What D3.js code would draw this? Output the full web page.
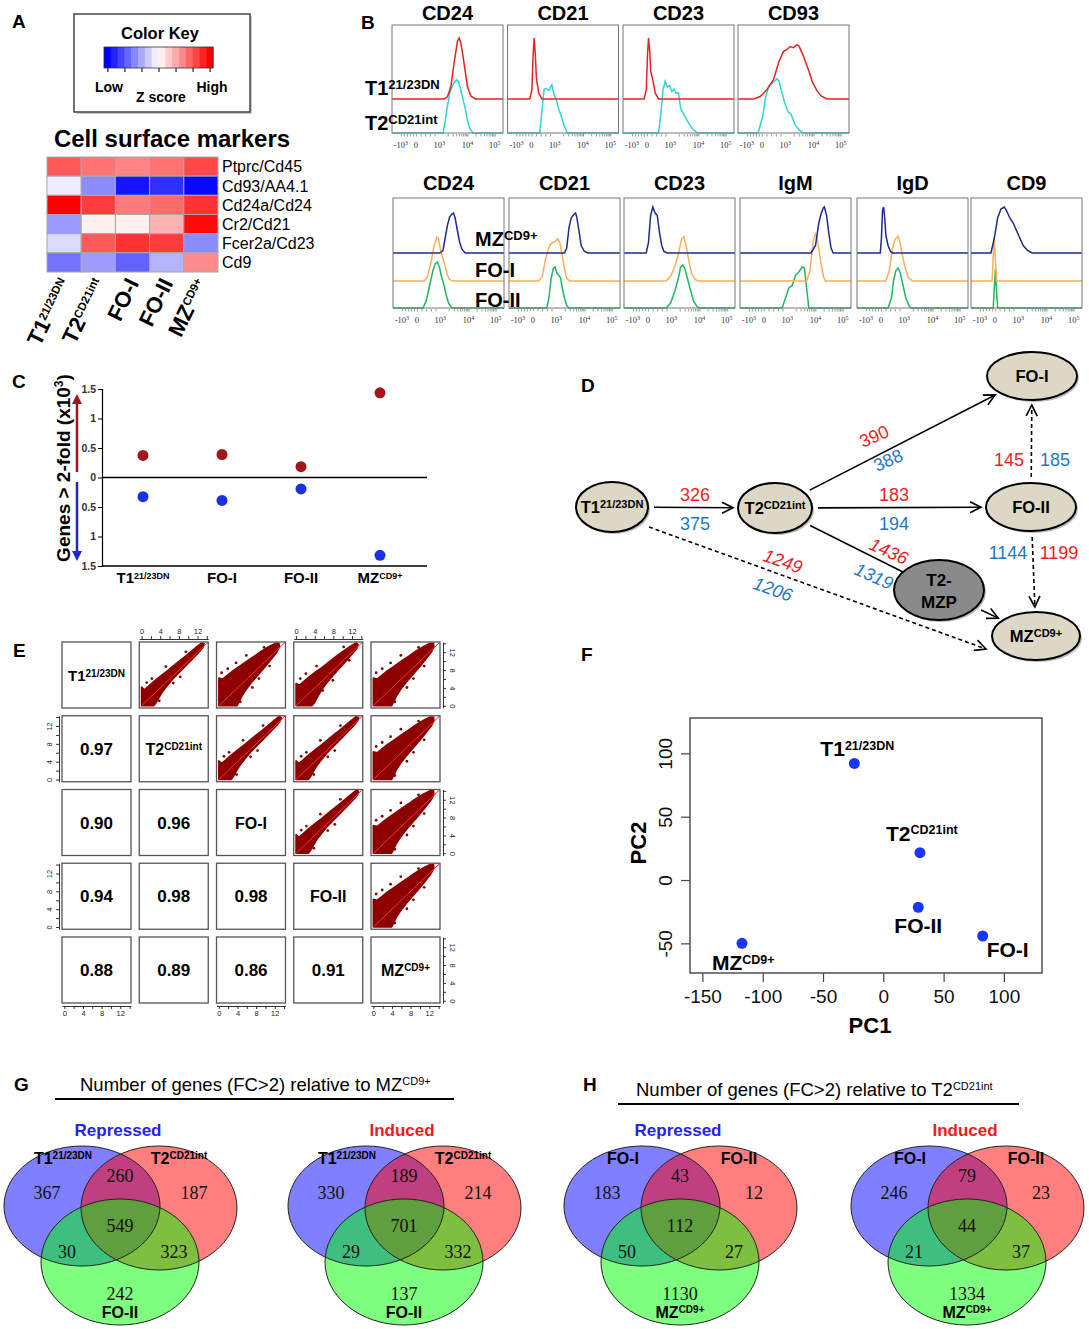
<!DOCTYPE html>
<html>
<head>
<meta charset="utf-8">
<script src="https://cdnjs.cloudflare.com/ajax/libs/d3/7.8.5/d3.min.js"></script>
<style>
body { margin: 0; background: #fff; }
svg text { font-family: "Liberation Sans", Arial, sans-serif; }
svg text.serif { font-family: "Liberation Serif", "Times New Roman", serif; }
</style>
</head>
<body>
<svg id="fig" width="1089" height="1329"></svg>
<script>
// ---------- A: heatmap ----------
const markers = ["Ptprc/Cd45", "Cd93/AA4.1", "Cd24a/Cd24", "Cr2/Cd21", "Fcer2a/Cd23", "Cd9"];
const subsets = [["T1", "21/23DN"], ["T2", "CD21int"], ["FO-I", ""], ["FO-II", ""], ["MZ", "CD9+"]];
const zscores = [
  [1.95, 1.65, 1.45, 1.65, 2.15],
  [-0.2, -1.35, -2.75, -2.45, -2.9],
  [3.0, 2.3, 1.55, 1.75, 2.4],
  [-1.2, 0.18, 0.18, 0.9, 2.9],
  [-0.42, 1.95, 2.4, 2.3, -1.35],
  [-1.65, -1.15, -1.85, -0.9, 1.35]
];
const keyTicks = [-3, -2, -1, 0, 1, 2, 3];

// ---------- B: flow histograms (channel 0-100, normalised count) ----------
const flowTop = ["CD24", "CD21", "CD23", "CD93"];
const flowT1 = [
  [[47,0],[50,0.04],[53,0.2],[56,0.6],[59,0.95],[60.5,1],[62,0.92],[64,0.7],[66,0.45],[68,0.2],[71,0.05],[75,0]],
  [[20,0],[22,0.15],[23,0.7],[24,1],[25,0.75],[26,0.35],[28,0.1],[31,0]],
  [[19,0],[21,0.15],[22,0.7],[23,1],[24,0.8],[25,0.45],[27,0.3],[29,0.1],[32,0]],
  [[14,0],[20,0.04],[26,0.15],[32,0.32],[37,0.62],[41,0.78],[44,0.81],[47,0.86],[50,0.84],[53,0.89],[55,0.87],[57,0.78],[59,0.7],[62,0.55],[64,0.45],[67,0.28],[71,0.14],[75,0.05],[80,0]]
];
const flowT2 = [
  [[46,0],[48,0.2],[50,0.45],[52,0.65],[55,0.8],[58,0.87],[60,0.84],[62,0.7],[64,0.55],[66,0.4],[68,0.2],[70,0.08],[73,0]],
  [[29,0],[31,0.35],[33,0.72],[35,0.73],[37,0.7],[39,0.76],[40,0.79],[42,0.62],[44,0.55],[46,0.4],[48,0.3],[51,0.12],[54,0]],
  [[32,0],[34,0.3],[36,0.7],[38,0.85],[40,0.75],[42,0.78],[44,0.68],[46,0.72],[48,0.65],[50,0.66],[52,0.4],[55,0.3],[58,0.2],[62,0.08],[67,0]],
  [[18,0],[22,0.25],[25,0.6],[28,0.78],[30,0.8],[33,0.85],[35,0.89],[37,0.85],[39,0.7],[42,0.5],[45,0.35],[48,0.3],[51,0.15],[55,0.05],[59,0]]
];
const flowBottom = ["CD24", "CD21", "CD23", "IgM", "IgD", "CD9"];
const flowMZ = [
  [[42,0],[45,0.05],[47,0.3],[49,0.55],[51,0.72],[53,0.78],[54.5,0.8],[56,0.7],[58,0.45],[60,0.22],[62,0.08],[65,0]],
  [[50,0],[52,0.1],[54,0.5],[56,0.7],[58,0.76],[60,0.8],[61,0.72],[63,0.45],[65,0.15],[68,0.03],[71,0]],
  [[20,0],[22,0.2],[24,0.75],[26,0.92],[28,0.8],[30,0.75],[32,0.4],[34,0.15],[36,0.03],[39,0]],
  [[64,0],[68,0.15],[71,0.6],[73,0.78],[75,0.9],[76,0.92],[78,0.75],[80,0.4],[82,0.1],[84,0]],
  [[21,0],[22,0.3],[23,0.85],[24,0.92],[25,0.7],[26,0.35],[28,0.15],[30,0.04],[32,0]],
  [[18,0],[21,0.3],[24,0.7],[27,0.88],[30,0.92],[32,0.85],[35,0.7],[38,0.6],[41,0.45],[44,0.3],[47,0.15],[51,0.05],[55,0]]
];
const flowFO1 = [
  [[28,0],[31,0.08],[34,0.35],[37,0.7],[39.5,0.88],[41,0.85],[43,0.6],[45,0.45],[47,0.3],[49,0.12],[51,0.03],[54,0]],
  [[27,0],[30,0.1],[33,0.45],[36,0.68],[38,0.75],[40,0.78],[42,0.8],[44,0.85],[46,0.75],[48,0.5],[50,0.25],[52,0.05],[55,0]],
  [[38,0],[42,0.1],[46,0.3],[49,0.55],[52,0.85],[54,0.89],[56,0.7],[58,0.45],[61,0.15],[64,0.03],[67,0]],
  [[60,0],[63,0.2],[66,0.8],[68,0.94],[69,0.9],[71,0.65],[73,0.35],[75,0.1],[77,0]],
  [[26,0],[29,0.2],[32,0.65],[34,0.82],[37,0.9],[39,0.75],[41,0.5],[43,0.3],[46,0.08],[50,0]],
  [[19,0],[20,0.5],[21,0.88],[22,0.4],[23,0]]
];
const flowFO2 = [
  [[27,0],[30,0.15],[33,0.45],[36,0.75],[38,0.88],[40,0.92],[42,0.8],[44,0.6],[46,0.45],[48,0.25],[50,0.1],[53,0]],
  [[34,0],[36,0.2],[38,0.6],[40,0.8],[41.5,0.82],[43,0.7],[45,0.65],[46.5,0.6],[48,0.4],[50,0.2],[52,0.05],[54,0]],
  [[38,0],[42,0.1],[46,0.35],[49,0.6],[51,0.82],[53,0.86],[55,0.78],[57,0.6],[60,0.35],[63,0.12],[66,0.02],[68,0]],
  [[38,0],[41,0.2],[44,0.4],[47,0.45],[50,0.65],[53,0.72],[56,0.82],[58,0.8],[60,0.4],[62,0]],
  [[28,0],[31,0.2],[33,0.55],[35,0.75],[37,0.8],[39,0.7],[41,0.5],[44,0.2],[47,0.04],[49,0]],
  [[20,0],[21,0.4],[22,0.8],[23,0.35],[24,0]]
];
const flowTickLabels = [["-10", "3"], ["0", ""], ["10", "3"], ["10", "4"], ["10", "5"]];
const flowTickChannels = [8, 21.5, 42.5, 68, 92.5];

// ---------- C: genes > 2-fold (x10^3) ----------
const dgeGroups = [["T1", "21/23DN"], ["FO-I", ""], ["FO-II", ""], ["MZ", "CD9+"]];
const dgeInduced = [0.375, 0.390, 0.183, 1.436];
const dgeRepressed = [0.326, 0.388, 0.194, 1.319];
const dgeTicks = [-1.5, -1, -0.5, 0, 0.5, 1, 1.5];

// ---------- D: lineage graph ----------
const nodeIds = ["T1", "T2", "FOI", "FOII", "MZP", "MZ"];
const nodeNames = [["T1", "21/23DN"], ["T2", "CD21int"], ["FO-I", ""], ["FO-II", ""], ["T2-", "MZP"], ["MZ", "CD9+"]];
const edgeFrom = ["T1", "T2", "T2", "T2", "T1", "FOII", "FOII", "MZP"];
const edgeTo = ["T2", "FOII", "FOI", "MZP", "MZ", "FOI", "MZ", "MZ"];
const edgeInduced = [326, 183, 390, 1436, 1249, 145, 1199, null];
const edgeRepressed = [375, 194, 388, 1319, 1206, 185, 1144, null];
const edgeDashed = [false, false, false, false, true, true, true, false];

// ---------- E: pairwise correlations ----------
const corrValues = [
  [1, 0.97, 0.90, 0.94, 0.88],
  [0.97, 1, 0.96, 0.98, 0.89],
  [0.90, 0.96, 1, 0.98, 0.86],
  [0.94, 0.98, 0.98, 1, 0.91],
  [0.88, 0.89, 0.86, 0.91, 1]
];
const cloudTight = [[0,0],[0,4.2],[0.6,3.6],[1.4,4.3],[2.6,5.4],[4,6.6],[5.6,7.9],[7.2,9.3],[8.8,10.6],[10.4,12],[11.8,13.2],[12.9,14.1],[13.4,13.9],[13.2,13.1],[12.3,12],[11,10.6],[9.4,8.9],[8,7.4],[6.6,5.9],[5.4,4.4],[4.4,3],[3.6,1.6],[3,0.5],[2.6,0],[0,0]];
const cloudMid = [[0,0],[0,5],[0.7,4.6],[1.6,5.4],[2.8,6.5],[4.2,7.6],[5.8,8.8],[7.4,10.1],[9,11.4],[10.6,12.6],[12,13.6],[12.9,14.1],[13.3,13.7],[13,12.8],[12,11.6],[10.6,9.9],[9.2,8.3],[7.8,6.6],[6.4,4.9],[5.3,3.3],[4.5,1.8],[3.9,0.6],[3.4,0],[0,0]];
const cloudWide = [[0,0],[0,6.2],[0.8,6],[1.8,6.8],[3,7.8],[4.5,8.9],[6,10],[7.6,11.1],[9.2,12.3],[10.8,13.3],[12.2,14],[12.9,14],[13,13.2],[12.4,12],[11.2,10.4],[9.8,8.6],[8.4,6.9],[7,5.2],[5.8,3.6],[4.9,2.1],[4.3,0.8],[3.9,0],[0,0]];
const outTight = [[1.1,5.2],[2.2,6.1],[5.2,8.8],[6.8,5.1],[9.5,12.1],[3.8,1.1],[8.3,6.5]];
const outMid = [[0.9,6.1],[2.1,7.2],[4.4,8.9],[7.9,5.7],[10.2,13.2],[5.7,3.4],[11.4,10.2]];
const outWide = [[0.6,7.4],[1.9,8.3],[3.7,9.6],[5.9,11.3],[8.6,6.1],[10.9,8.9],[7.2,4.1],[9.7,13.1],[4.6,0.9]];
const exprTicks = [0, 2, 4, 6, 8, 10, 12, 14];
const exprLabelled = [0, 4, 8, 12];
const fitEnds = [0, 14.2];

// ---------- F: PCA ----------
const pcaNames = [["T1", "21/23DN"], ["T2", "CD21int"], ["FO-I", ""], ["FO-II", ""], ["MZ", "CD9+"]];
const pc1 = [-24, 30.4, 82.4, 29, -117.2];
const pc2 = [92, 21.6, -44.2, -21.5, -50];
const pc1Ticks = [-150, -100, -50, 0, 50, 100];
const pc2Ticks = [-50, 0, 50, 100];

// ---------- G/H: Venn counts ----------
const vennTitles = [["Number of genes (FC>2) relative to MZ", "CD9+"], ["Number of genes (FC>2) relative to T2", "CD21int"]];
const vennHeads = ["Repressed", "Induced", "Repressed", "Induced"];
const vennSets = [
  [["T1", "21/23DN"], ["T2", "CD21int"], ["FO-II", ""]],
  [["T1", "21/23DN"], ["T2", "CD21int"], ["FO-II", ""]],
  [["FO-I", ""], ["FO-II", ""], ["MZ", "CD9+"]],
  [["FO-I", ""], ["FO-II", ""], ["MZ", "CD9+"]]
];
// order: A only, B only, C only, AB, AC, BC, ABC
const vennCounts = [
  [367, 187, 242, 260, 30, 323, 549],
  [330, 214, 137, 189, 29, 332, 701],
  [183, 12, 1130, 43, 50, 27, 112],
  [246, 23, 1334, 79, 21, 37, 44]
];

// =====================================================================
const svg = d3.select("#fig");
svg.append("rect").attr("width", 1089).attr("height", 1329).attr("fill", "#fff");

function supText(g, x, y, base, sup, size, supSize, anchor, weight) {
  const t = g.append("text").attr("x", x).attr("y", y).attr("font-size", size)
    .attr("font-weight", weight || "bold").attr("text-anchor", anchor || "start");
  t.append("tspan").text(base);
  if (sup) t.append("tspan").attr("font-size", supSize).attr("dy", -0.3 * size).text(sup);
  return t;
}

const letters = [["A", 12, 28], ["B", 361, 29], ["C", 12, 388], ["D", 581, 392],
                 ["E", 13, 657], ["F", 581, 661], ["G", 14, 1091], ["H", 583, 1091]];
letters.forEach(l => svg.append("text").attr("x", l[1]).attr("y", l[2])
  .attr("font-size", 19).attr("font-weight", "bold").text(l[0]));

// ---------------- A ----------------
const gA = svg.append("g");
gA.append("rect").attr("x", 76).attr("y", 16).attr("width", 176).attr("height", 98)
  .attr("fill", "#ccc");
gA.append("rect").attr("x", 74).attr("y", 14).attr("width", 176).attr("height", 98)
  .attr("fill", "#fff").attr("stroke", "#444").attr("stroke-width", 1.5);
gA.append("text").attr("x", 160).attr("y", 39).attr("text-anchor", "middle")
  .attr("font-size", 16.5).attr("font-weight", "bold").text("Color Key");

const heat = d3.scaleLinear().domain([-3, 0, 3]).range(["#0000ff", "#ffffff", "#ff0000"]).clamp(true);
const keyX = d3.scaleLinear().domain([-3.2, 3.2]).range([104, 213]);
const keySteps = d3.range(-3.2, 3.19, 0.4);
gA.selectAll("rect.key").data(keySteps).join("rect").attr("class", "key")
  .attr("x", d => keyX(d)).attr("y", 47)
  .attr("width", keyX(0.4) - keyX(0) + 0.5).attr("height", 21)
  .attr("fill", d => heat(d + 0.2));
gA.append("rect").attr("x", 104).attr("y", 47).attr("width", 109).attr("height", 21)
  .attr("fill", "none").attr("stroke", "#333").attr("stroke-width", 0.8);
gA.append("g").attr("transform", "translate(0,68)")
  .call(d3.axisBottom(keyX).tickValues(keyTicks).tickSize(4).tickFormat(""))
  .call(a => a.select(".domain").remove())
  .selectAll("line").attr("stroke", "#222").attr("stroke-width", 1.2);
[["Low", 109, 92], ["High", 212, 92], ["Z score", 161, 102]].forEach(t =>
  gA.append("text").attr("x", t[1]).attr("y", t[2]).attr("text-anchor", "middle")
    .attr("font-size", 14).attr("font-weight", "bold").text(t[0]));

gA.append("text").attr("x", 172).attr("y", 147).attr("text-anchor", "middle")
  .attr("font-size", 24).attr("font-weight", "bold").text("Cell surface markers");

const hx = d3.scaleBand().domain(d3.range(subsets.length)).range([47, 218]);
const hy = d3.scaleBand().domain(markers).range([157, 272]);
gA.selectAll("rect.cell")
  .data(zscores.flatMap((row, i) => row.map((v, j) => ({ i, j, v }))))
  .join("rect").attr("class", "cell")
  .attr("x", d => hx(d.j)).attr("y", d => hy(markers[d.i]))
  .attr("width", hx.bandwidth()).attr("height", hy.bandwidth())
  .attr("fill", d => heat(d.v)).attr("stroke", "#a8a8a8").attr("stroke-width", 1);
gA.selectAll("text.row").data(markers).join("text").attr("class", "row")
  .attr("x", 222).attr("y", d => hy(d) + hy.bandwidth() / 2).attr("dy", "0.36em")
  .attr("font-size", 16).text(d => d);
subsets.forEach((s, j) => {
  const px = hx(j) + hx.bandwidth() / 2 + 7, py = 283;
  supText(gA, px, py, s[0], s[1], 22, 11.5, "end").attr("transform", `rotate(-64,${px},${py})`);
});

// ---------------- B ----------------
const gB = svg.append("g");
const boxW = 111;
const flowMinor = [];
[8, 10.7, 13.4, 16.1, 18.8, 21.5, 25.7, 29.9, 34.1, 38.3].forEach(v => flowMinor.push(v));
[2, 3, 4, 5, 6, 7, 8, 9, 10].forEach(k => { flowMinor.push(42.5 + 25.5 * Math.log10(k)); flowMinor.push(68 + 24.5 * Math.log10(k)); });

function flowPanel(x0, y0, h, title, curves, colors, baseFrac, unit, titleY, tickY) {
  const fxs = d3.scaleLinear().domain([0, 100]).range([x0, x0 + boxW]);
  gB.append("text").attr("x", x0 + boxW / 2).attr("y", titleY).attr("text-anchor", "middle")
    .attr("font-size", 20).attr("font-weight", "bold").text(title);
  curves.forEach((pts, i) => {
    const base = y0 + h * baseFrac[i];
    const ys = d3.scaleLinear().domain([0, 1]).range([base, base - unit]);
    gB.append("path").datum([[0, 0], ...pts, [100, 0]])
      .attr("d", d3.line().x(d => fxs(d[0])).y(d => ys(d[1])))
      .attr("fill", "none").attr("stroke", colors[i]).attr("stroke-width", 1.5);
  });
  gB.append("rect").attr("x", x0).attr("y", y0).attr("width", boxW).attr("height", h)
    .attr("fill", "none").attr("stroke", "#777").attr("stroke-width", 1);
  const ax = gB.append("g").attr("transform", `translate(0,${y0 + h + 1})`)
    .call(d3.axisBottom(fxs).tickValues(flowMinor).tickSize(2.5).tickFormat(""));
  ax.select(".domain").remove();
  ax.selectAll("line").attr("stroke", "#555").attr("stroke-width", 0.6);
  flowTickChannels.forEach((c, k) => {
    const t = gB.append("text").attr("class", "serif").attr("x", fxs(c)).attr("y", tickY)
      .attr("text-anchor", "middle").attr("font-size", 8.5).attr("fill", "#333");
    t.append("tspan").text(flowTickLabels[k][0]);
    if (flowTickLabels[k][1]) t.append("tspan").attr("font-size", 6).attr("dy", -3).text(flowTickLabels[k][1]);
  });
}
const topBoxX = [392, 507.5, 623, 738];
flowTop.forEach((t, i) => flowPanel(topBoxX[i], 25, 108, t, [flowT2[i], flowT1[i]],
  ["#30d3d8", "#e52421"], [1, 0.685], 61, 20, 148));
const botBoxX = [393, 509, 624, 740, 857, 971];
flowBottom.forEach((t, i) => flowPanel(botBoxX[i], 198, 110, t, [flowFO2[i], flowFO1[i], flowMZ[i]],
  ["#1fb65f", "#ffad5a", "#1e2a8e"], [1, 0.755, 0.5], 50, 190, 323));
supText(gB, 365, 95, "T1", "21/23DN", 20, 13);
supText(gB, 365, 130, "T2", "CD21int", 20, 13);
supText(gB, 475, 246, "MZ", "CD9+", 20, 13);
supText(gB, 475, 277, "FO-I", "", 20, 13);
supText(gB, 475, 307, "FO-II", "", 20, 13);

// ---------------- C ----------------
const gC = svg.append("g");
const cy = d3.scaleLinear().domain([-1.5, 1.5]).range([566, 389]);
const cx = d3.scalePoint().domain(d3.range(dgeGroups.length)).range([143, 380]);
const axC = gC.append("g").attr("transform", "translate(102,0)")
  .call(d3.axisLeft(cy).tickValues(dgeTicks).tickSize(4).tickPadding(2).tickFormat(d => Math.abs(d)));
axC.attr("font-size", 10.5).attr("font-weight", "bold");
axC.selectAll("text").attr("fill", "#333");
axC.select(".domain").attr("stroke-width", 1.2);
gC.append("line").attr("x1", 102).attr("x2", 427).attr("y1", cy(0)).attr("y2", cy(0)).attr("stroke", "#000").attr("stroke-width", 1.5);
gC.append("line").attr("x1", 102).attr("x2", 427).attr("y1", cy(-1.5)).attr("y2", cy(-1.5)).attr("stroke", "#000").attr("stroke-width", 1.5);
gC.selectAll("circle.up").data(dgeInduced).join("circle").attr("class", "up")
  .attr("cx", (d, i) => cx(i)).attr("cy", d => cy(d)).attr("r", 5.5).attr("fill", "#a3161c");
gC.selectAll("circle.dn").data(dgeRepressed).join("circle").attr("class", "dn")
  .attr("cx", (d, i) => cx(i)).attr("cy", d => cy(-d)).attr("r", 5.5).attr("fill", "#1b2fe6");
dgeGroups.forEach((g, i) => supText(gC, cx(i), 583, g[0], g[1], 15, 9, "middle"));
const defs = svg.append("defs");
[["hRed", "#a3161c"], ["hBlue", "#1c28c8"]].forEach(m =>
  defs.append("marker").attr("id", m[0]).attr("viewBox", "0 0 10 10").attr("refX", 2).attr("refY", 5)
    .attr("markerWidth", 10).attr("markerHeight", 12).attr("markerUnits", "userSpaceOnUse").attr("orient", "auto")
    .append("path").attr("d", "M0,0 L10,5 L0,10 z").attr("fill", m[1]));
gC.append("line").attr("x1", 77).attr("x2", 77).attr("y1", 472).attr("y2", 402)
  .attr("stroke", "#a3161c").attr("stroke-width", 2.5).attr("marker-end", "url(#hRed)");
gC.append("line").attr("x1", 77).attr("x2", 77).attr("y1", 482).attr("y2", 553)
  .attr("stroke", "#1c28c8").attr("stroke-width", 2.5).attr("marker-end", "url(#hBlue)");
const ct = gC.append("text").attr("transform", "translate(70,468) rotate(-90)").attr("text-anchor", "middle")
  .attr("font-size", 19).attr("font-weight", "bold");
ct.append("tspan").text("Genes > 2-fold (x10");
ct.append("tspan").attr("font-size", 12).attr("dy", -7).text("3");
ct.append("tspan").attr("dy", 7).text(")");

// ---------------- D ----------------
const gD = svg.append("g");
const nodeLayout = {
  T1: { x: 612, y: 507, rx: 36, ry: 25, fill: "#ddd8c6" },
  T2: { x: 775, y: 508, rx: 37, ry: 25, fill: "#ddd8c6" },
  FOI: { x: 1032, y: 376, rx: 45, ry: 24, fill: "#ddd8c6" },
  FOII: { x: 1031, y: 507, rx: 45, ry: 24, fill: "#ddd8c6" },
  MZP: { x: 939, y: 590, rx: 45, ry: 30, fill: "#8a8a8a" },
  MZ: { x: 1036, y: 636, rx: 44, ry: 24, fill: "#ddd8c6" }
};
// optional fixed start / end points (relative to source / target centre)
const edgeStart = [null, null, null, null, [37, 20], null, null, null];
const edgeAim = [null, null, null, null, [-50, 13], null, null, null];
defs.append("marker").attr("id", "chev").attr("viewBox", "0 0 10 10").attr("refX", 10).attr("refY", 5)
  .attr("markerWidth", 11).attr("markerHeight", 11).attr("markerUnits", "userSpaceOnUse").attr("orient", "auto")
  .style("overflow", "visible")
  .append("path").attr("d", "M0,0 L10,5 L0,10").attr("fill", "none").attr("stroke", "#000").attr("stroke-width", 1.5);
function rim(n, dx, dy, gap) {
  const t = 1 / Math.sqrt((dx / n.rx) ** 2 + (dy / n.ry) ** 2);
  return [n.x + dx * (t + gap), n.y + dy * (t + gap)];
}
edgeFrom.forEach((f, i) => {
  const a = nodeLayout[f], b = nodeLayout[edgeTo[i]];
  const aim = edgeAim[i], st = edgeStart[i];
  const tx = aim ? b.x + aim[0] : b.x, ty = aim ? b.y + aim[1] : b.y;
  const L = Math.hypot(tx - a.x, ty - a.y), ux = (tx - a.x) / L, uy = (ty - a.y) / L;
  const s = st ? [a.x + st[0], a.y + st[1]] : rim(a, ux, uy, 6);
  const e = aim ? [tx, ty] : rim(b, -ux, -uy, edgeTo[i] === "MZP" ? 0 : 5);
  gD.append("line").attr("x1", s[0]).attr("y1", s[1]).attr("x2", e[0]).attr("y2", e[1])
    .attr("stroke", "#000").attr("stroke-width", 1.6)
    .attr("stroke-dasharray", edgeDashed[i] ? "4,3" : null)
    .attr("marker-end", edgeTo[i] === "MZP" ? null : "url(#chev)");
});
const edgeLabelLayout = [
  { r: [695, 495], b: [695, 524], a: 0 },
  { r: [894, 495], b: [894, 524], a: 0 },
  { r: [874, 436], b: [888, 460], a: -24 },
  { r: [889, 551], b: [874, 576], a: 24, it: true },
  { r: [783, 561], b: [773, 589], a: 19, it: true },
  { r: [1009, 460], b: [1055, 460], a: 0 },
  { r: [1059, 553], b: [1008, 553], a: 0 }
];
edgeLabelLayout.forEach((p, i) => {
  [[p.r, edgeInduced[i], "#ee1d23"], [p.b, edgeRepressed[i], "#1f78c8"]].forEach(q =>
    gD.append("text").attr("transform", `translate(${q[0][0]},${q[0][1]}) rotate(${p.a})`)
      .attr("text-anchor", "middle").attr("dy", "0.36em").attr("font-size", 18)
      .attr("font-style", p.it ? "italic" : null).attr("fill", q[2]).text(q[1]));
});
nodeIds.forEach((id, i) => {
  const n = nodeLayout[id];
  gD.append("ellipse").attr("cx", n.x + 2).attr("cy", n.y + 2).attr("rx", n.rx).attr("ry", n.ry)
    .attr("fill", "#bbb");
  gD.append("ellipse").attr("cx", n.x).attr("cy", n.y).attr("rx", n.rx).attr("ry", n.ry)
    .attr("fill", n.fill).attr("stroke", "#000").attr("stroke-width", 2);
  if (id === "MZP") {
    gD.append("text").attr("x", n.x).attr("y", n.y - 4).attr("text-anchor", "middle")
      .attr("font-size", 17).attr("font-weight", "bold").text(nodeNames[i][0]);
    gD.append("text").attr("x", n.x).attr("y", n.y + 18).attr("text-anchor", "middle")
      .attr("font-size", 17).attr("font-weight", "bold").text(nodeNames[i][1]);
  } else {
    supText(gD, n.x, n.y + 6, nodeNames[i][0], nodeNames[i][1], 16.5, 11, "middle");
  }
});

// ---------------- E ----------------
const gE = svg.append("g");
const ex = d3.scaleBand().domain(d3.range(5)).range([62, 440]).paddingInner(0.107);
const ey = d3.scaleBand().domain(d3.range(5)).range([642, 1003]).paddingInner(0.105);
const clouds = { tight: [cloudTight, outTight], mid: [cloudMid, outMid], wide: [cloudWide, outWide] };
const cellScales = (r, c) => [
  d3.scaleLinear().domain([-0.5, 14.3]).range([ex(c), ex(c) + ex.bandwidth()]),
  d3.scaleLinear().domain([-0.5, 14.3]).range([ey(r) + ey.bandwidth(), ey(r)])
];
for (let r = 0; r < 5; r++) for (let c = 0; c < 5; c++) {
  const [sx, sy] = cellScales(r, c);
  if (c > r) {
    const v = corrValues[r][c];
    const cl = clouds[v >= 0.96 ? "tight" : v >= 0.93 ? "mid" : "wide"];
    gE.append("path").datum(cl[0]).attr("d", d3.line().curve(d3.curveLinearClosed).x(d => sx(d[0])).y(d => sy(d[1])))
      .attr("fill", "#8c0000").attr("stroke", "#8c0000").attr("stroke-width", 1.6).attr("stroke-linejoin", "round");
    gE.selectAll(null).data(cl[1]).join("circle").attr("cx", d => sx(d[0])).attr("cy", d => sy(d[1]))
      .attr("r", 1.4).attr("fill", "#8c0000");
    gE.append("line").attr("x1", sx(fitEnds[0])).attr("y1", sy(fitEnds[0])).attr("x2", sx(fitEnds[1])).attr("y2", sy(fitEnds[1]))
      .attr("stroke", "#ff2a2a").attr("stroke-width", 1);
  } else if (c === r) {
    supText(gE, ex(c) + ex.bandwidth() / 2, ey(r) + ey.bandwidth() / 2 + 6, subsets[r][0], subsets[r][1],
      r === 0 ? 15 : 16, 10, "middle");
  } else {
    gE.append("text").attr("x", ex(c) + ex.bandwidth() / 2).attr("y", ey(r) + ey.bandwidth() / 2 + 6)
      .attr("text-anchor", "middle").attr("font-size", 17).attr("font-weight", "bold")
      .text(corrValues[r][c].toFixed(2));
  }
  gE.append("rect").attr("x", ex(c)).attr("y", ey(r)).attr("width", ex.bandwidth()).attr("height", ey.bandwidth())
    .attr("fill", "none").attr("stroke", "#555").attr("stroke-width", 1.3);
}
function styleExprAxis(a) {
  a.attr("font-size", 7.5);
  a.selectAll("line").attr("stroke", "#333");
  a.select(".domain").attr("stroke", "#333");
  a.selectAll("text").attr("fill", "#222");
}
const exFmt = d => exprLabelled.includes(d) ? d : "";
[1, 3].forEach(c => {
  const [sx] = cellScales(0, c);
  styleExprAxis(gE.append("g").attr("transform", `translate(0,${ey(0) - 3})`)
    .call(d3.axisTop(sx).tickValues(exprTicks).tickSize(3).tickSizeOuter(0).tickPadding(2).tickFormat(exFmt)));
});
[0, 2, 4].forEach(c => {
  const [sx] = cellScales(4, c);
  styleExprAxis(gE.append("g").attr("transform", `translate(0,${ey(4) + ey.bandwidth() + 3})`)
    .call(d3.axisBottom(sx).tickValues(exprTicks).tickSize(3).tickSizeOuter(0).tickPadding(2).tickFormat(exFmt)));
});
[1, 3].forEach(r => {
  const [, sy] = cellScales(r, 0);
  const a = gE.append("g").attr("transform", `translate(${ex(0) - 3},0)`)
    .call(d3.axisLeft(sy).tickValues(exprTicks).tickSize(3).tickSizeOuter(0).tickFormat(exFmt));
  styleExprAxis(a);
  a.selectAll("text").attr("x", 0).attr("y", -7).attr("dy", 0).attr("text-anchor", "middle").attr("transform", "rotate(-90)");
});
[0, 2, 4].forEach(r => {
  const [, sy] = cellScales(r, 4);
  const a = gE.append("g").attr("transform", `translate(${ex(4) + ex.bandwidth() + 3},0)`)
    .call(d3.axisRight(sy).tickValues(exprTicks).tickSize(3).tickSizeOuter(0).tickFormat(exFmt));
  styleExprAxis(a);
  a.selectAll("text").attr("x", 0).attr("y", -7).attr("dy", 0).attr("text-anchor", "middle").attr("transform", "rotate(90)");
});

// ---------------- F ----------------
const gF = svg.append("g");
const fx = d3.scaleLinear().domain([-160.3, 131.6]).range([690, 1042]);
const fy = d3.scaleLinear().domain([-73.4, 127.9]).range([973, 718]);
gF.append("rect").attr("x", 690).attr("y", 718).attr("width", 352).attr("height", 255)
  .attr("fill", "none").attr("stroke", "#444").attr("stroke-width", 1.4);
const fxa = gF.append("g").attr("transform", "translate(0,973)")
  .call(d3.axisBottom(fx).tickValues(pc1Ticks).tickSize(9).tickPadding(8).tickFormat(d => String(d)));
fxa.attr("font-size", 19); fxa.select(".domain").remove();
fxa.selectAll("line").attr("stroke", "#444").attr("stroke-width", 1.2);
fxa.selectAll("text").attr("fill", "#111");
const fya = gF.append("g").attr("transform", "translate(690,0)")
  .call(d3.axisLeft(fy).tickValues(pc2Ticks).tickSize(9).tickPadding(9).tickFormat(d => String(d)));
fya.attr("font-size", 19); fya.select(".domain").remove();
fya.selectAll("line").attr("stroke", "#444").attr("stroke-width", 1.2);
fya.selectAll("text").attr("fill", "#111").attr("x", 0).attr("y", -18).attr("dy", 0)
  .attr("text-anchor", "middle").attr("transform", "rotate(-90)");
gF.append("text").attr("x", 870).attr("y", 1033).attr("text-anchor", "middle")
  .attr("font-size", 22).attr("font-weight", "bold").text("PC1");
gF.append("text").attr("transform", "translate(646,843) rotate(-90)").attr("text-anchor", "middle")
  .attr("font-size", 22).attr("font-weight", "bold").text("PC2");
gF.selectAll("circle").data(pc1).join("circle").attr("cx", d => fx(d)).attr("cy", (d, i) => fy(pc2[i]))
  .attr("r", 5.5).attr("fill", "#1a35ff");
const pcaLabelOffset = [[-34, -7, "start"], [-34, -12, "start"], [4, 21, "start"], [0, 26, "middle"], [-30, 27, "start"]];
pcaNames.forEach((n, i) => {
  const o = pcaLabelOffset[i];
  supText(gF, fx(pc1[i]) + o[0], fy(pc2[i]) + o[1], n[0], n[1], 21, 12.5, o[2]);
});

// ---------------- G/H ----------------
const gV = svg.append("g");
const titleLayout = [{ x: 80, y: 1091, l: [55, 454], ly: 1099 }, { x: 636, y: 1096, l: [618, 1019], ly: 1104 }];
vennTitles.forEach((t, i) => {
  const p = titleLayout[i];
  supText(gV, p.x, p.y, t[0], t[1], 18.5, 11, "start", "normal");
  gV.append("line").attr("x1", p.l[0]).attr("x2", p.l[1]).attr("y1", p.ly).attr("y2", p.ly)
    .attr("stroke", "#000").attr("stroke-width", 2);
});
const vennX = [82, 366, 642, 929], vennY = 1206;
const vennEll = [[0, 0, 78, 60, "#0000ff"], [77, 2, 78, 62, "#ff0000"], [38, 56, 79, 63, "#00ff00"]];
const regionPos = [[-35, -13], [112, -13], [38, 88], [38, -30], [-15, 46], [92, 46], [38, 20]];
const setLabelPos = [[-19, -42], [97, -42], [38, 112]];
vennCounts.forEach((counts, k) => {
  const bx = vennX[k];
  gV.append("text").attr("x", bx + 36).attr("y", 1136).attr("text-anchor", "middle")
    .attr("font-size", 17).attr("font-weight", "bold")
    .attr("fill", vennHeads[k] === "Repressed" ? "#2323f0" : "#f01a1a").text(vennHeads[k]);
  vennEll.forEach(e => gV.append("ellipse").attr("cx", bx + e[0]).attr("cy", vennY + e[1])
    .attr("rx", e[2]).attr("ry", e[3]).attr("fill", e[4]).attr("fill-opacity", 0.5));
  vennEll.forEach(e => gV.append("ellipse").attr("cx", bx + e[0]).attr("cy", vennY + e[1])
    .attr("rx", e[2]).attr("ry", e[3]).attr("fill", "none").attr("stroke", "#222").attr("stroke-width", 1));
  counts.forEach((n, j) => gV.append("text").attr("class", "serif")
    .attr("x", bx + regionPos[j][0]).attr("y", vennY + regionPos[j][1]).attr("dy", "0.35em")
    .attr("text-anchor", "middle").attr("font-size", 18).attr("fill", "#111").text(n));
  vennSets[k].forEach((s, j) => supText(gV, bx + setLabelPos[j][0], vennY + setLabelPos[j][1],
    s[0], s[1], 16, 10, "middle"));
});
</script>
</body>
</html>
